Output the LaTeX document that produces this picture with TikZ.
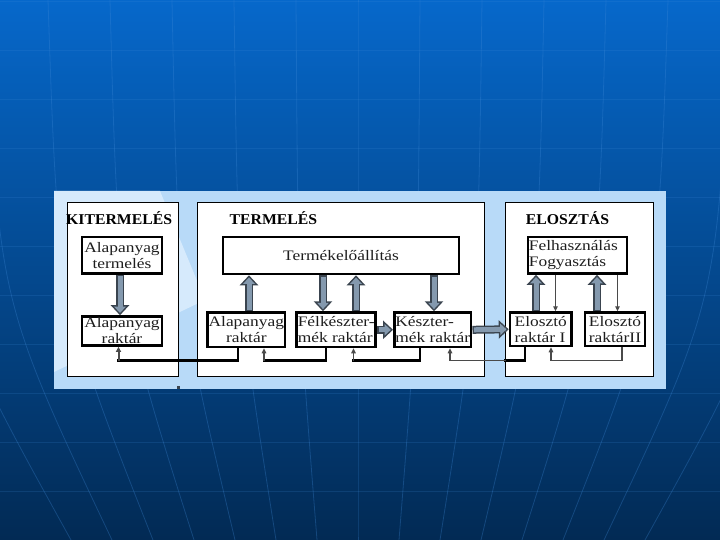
\documentclass[tikz,border=0pt]{standalone}
\usepackage{fontspec}
\setmainfont{Liberation Serif}[FakeStretch=1.2]
\newfontfamily\headfont{Liberation Serif}[FakeStretch=1.05]
\usetikzlibrary{arrows.meta}
\definecolor{bgtop}{HTML}{0668CB}
\definecolor{bgmid}{HTML}{034D9C}
\definecolor{bgbot}{HTML}{022A54}
\definecolor{gridcol}{HTML}{3F8AD8}
\definecolor{panel}{HTML}{B8DAF8}
\definecolor{panellight}{HTML}{D6EAFC}
\definecolor{arrowfill}{HTML}{8499AE}
\definecolor{arrowedge}{HTML}{3A444F}
\definecolor{retgray}{HTML}{4A4A4A}
\definecolor{boxtext}{HTML}{1E1E1E}
\begin{document}
\begin{tikzpicture}[x=1bp,y=-1bp,
    sect/.style={draw=black, line width=0.9bp, fill=white},
    box/.style={draw=black, line width=2.6bp, fill=white, text=boxtext, align=center,
      inner xsep=1bp, inner ysep=0.5bp, font=\fontsize{14.5bp}{16bp}\selectfont},
    head/.style={anchor=base west, inner sep=0pt, font=\headfont\bfseries\fontsize{15bp}{16bp}\selectfont},
    fatarrow/.style={draw=arrowedge, line width=8bp, -{Triangle[length=10bp,width=18bp]},
      postaction={draw=arrowfill, line width=5bp, -{Triangle[length=6.3bp,width=11.3bp]},
        shorten >=2.2bp, shorten <=1.5bp}},
    retline/.style={draw=black, line width=2.6bp, line cap=rect},
    retup/.style={draw=retgray, line width=2bp, -{Triangle[length=5bp,width=5bp]}},
    thinarrow/.style={draw=retgray, line width=1.3bp, -{Triangle[length=5bp,width=4.5bp]}}]
    \useasboundingbox (0,0) rectangle (720,540);
    % slide background
    \shade[top color=bgtop, middle color=bgmid, bottom color=bgbot] (0,0) rectangle (720,540);
    \foreach \y in {1,50,99,148,197,246,295,344,393,442,491}
        \draw[gridcol, opacity=0.18, line width=0.8bp] (0,\y) -- (720,\y);
    \foreach \i in {-7,...,7}
        \draw[gridcol, opacity=0.3, line width=0.8bp] (358+\i*62,0) .. controls (358+\i*60,300) .. (358+\i*41,540);
    % light panel behind the diagram
    \fill[panel] (54,191) rectangle (666,389);
    \fill[panellight] (54,191) -- (160,191) -- (205,300) -- (54,372) -- cycle;
    \fill[arrowedge] (177,386) rectangle (179.5,389);
    % the three sections
    \draw[sect] (67.5,202.5) rectangle (178,376);
    \draw[sect] (197,202.5) rectangle (484,376);
    \draw[sect] (505.5,202.5) rectangle (653,376);
    \node[head] (kiterm) at (66,224.5) {KITERMELÉS};
    \node[head] (term) at (229.5,224.5) {TERMELÉS};
    \node[head] (eloszt) at (525.7,224.5) {ELOSZTÁS};
    % boxes
    \node[box, minimum width=80bp, minimum height=36.5bp] (termeles) at (122,255.2) {Alapanyag\\termelés};
    \node[box, minimum width=80bp, minimum height=29bp] (raktarA) at (122,331) {Alapanyag\\raktár};
    \node[box, minimum width=236bp, minimum height=37bp] (termelo) at (341,255.5) {Termékelőállítás};
    \node[box, minimum width=77.4bp, minimum height=34.4bp] (raktarB) at (246.3,329.8) {Alapanyag\\raktár};
    \node[box, align=left, minimum width=76.5bp, minimum height=34.4bp] (felkesz) at (336.25,329.8) {Félkészter-\\mék raktár};
    \node[box, align=left, minimum width=76.5bp, minimum height=34.4bp] (kesz) at (432.75,329.8) {Készter-\\mék raktár};
    \node[box, align=left, text width=97bp, minimum height=36.5bp] (fogy) at (577.4,255.25) {Felhasználás\\Fogyasztás};
    \node[box, align=left, minimum width=61.5bp, minimum height=33.4bp] (elosztoA) at (540.75,329.3) {Elosztó\\raktár I};
    \node[box, align=left, minimum width=60bp, minimum height=33.4bp] (elosztoB) at (615,329.3) {Elosztó\\raktárII};
    % material flow
    \draw[fatarrow] ([xshift=-2bp]termeles.south) -- ([xshift=-2bp]raktarA.north);
    \draw[fatarrow] ([xshift=2.7bp]raktarB.north) -- ([xshift=2.7bp]raktarB.north |- termelo.south);
    \draw[fatarrow] ([xshift=-13.25bp]felkesz.north |- termelo.south) -- ([xshift=-13.25bp]felkesz.north);
    \draw[fatarrow] ([xshift=19.75bp]felkesz.north) -- ([xshift=19.75bp]felkesz.north |- termelo.south);
    \draw[fatarrow] ([xshift=1.25bp]kesz.north |- termelo.south) -- ([xshift=1.25bp]kesz.north);
    \draw[fatarrow] (felkesz.east) -- (kesz.west);
    \draw[fatarrow] (kesz.east) -- (elosztoA.west);
    \draw[fatarrow] ([xshift=-4.75bp]elosztoA.north) -- ([xshift=-4.75bp]elosztoA.north |- fogy.south);
    \draw[fatarrow] ([xshift=-18bp]elosztoB.north) -- ([xshift=-18bp]elosztoB.north |- fogy.south);
    \draw[thinarrow] ([xshift=14.75bp]elosztoA.north |- fogy.south) -- ([xshift=14.75bp]elosztoA.north);
    \draw[thinarrow] ([xshift=2.5bp]elosztoB.north |- fogy.south) -- ([xshift=2.5bp]elosztoB.north);
    % return lines along the bottom
    \coordinate (bot) at (0,360.5);
    \coordinate (cedge) at (505.5,360.5);
    \draw[retline] ([xshift=-8.3bp]raktarB.south) |- ([xshift=-3.5bp]raktarA.south |- bot) coordinate (ra);
    \draw[retup] (ra) -- ([xshift=-3.5bp]raktarA.south);
    \draw[retline] ([xshift=-10.25bp]felkesz.south) |- ([xshift=17.7bp]raktarB.south |- bot) coordinate (rb);
    \draw[thinarrow] (rb) -- ([xshift=17.7bp]raktarB.south);
    \draw[retline] ([xshift=-12.75bp]kesz.south) |- ([xshift=17.25bp]felkesz.south |- bot) coordinate (rc);
    \draw[thinarrow] (rc) -- ([xshift=17.25bp]felkesz.south);
    \draw[retline] ([xshift=-15.75bp]elosztoA.south) |- (cedge);
    \draw[thinarrow] (cedge) -| ([xshift=17.25bp]kesz.south);
    \draw[thinarrow] ([xshift=7bp]elosztoB.south) -- ++(0,13) -| ([xshift=10.25bp]elosztoA.south);
\end{tikzpicture}
\end{document}
